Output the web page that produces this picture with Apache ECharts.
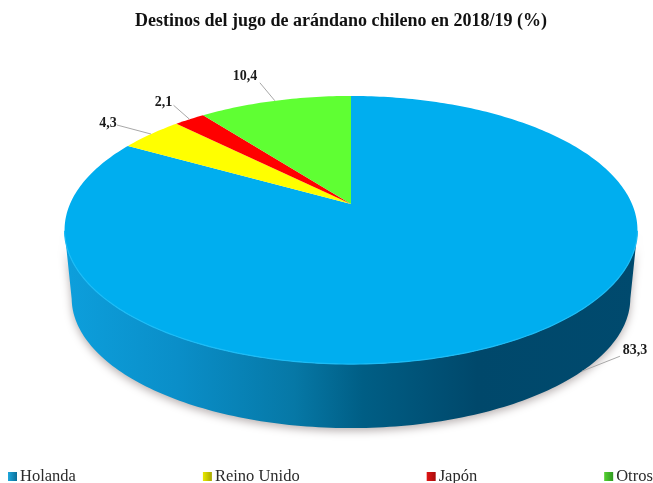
<!DOCTYPE html>
<html>
<head>
<meta charset="utf-8">
<title>Destinos del jugo de arándano chileno</title>
<style>html,body{margin:0;padding:0;background:#fff}#chart{width:653px;height:483px}</style>
<script src="https://cdn.jsdelivr.net/npm/echarts@6/dist/echarts.min.js"></script>
</head>
<body>
<div id="chart"></div>
<script>
// Destination shares, clockwise from twelve o'clock
var categories = ['Holanda', 'Reino Unido', 'Japón', 'Otros'];
var shares = [83.3, 4.3, 2.1, 10.4];
var topColors = ['#00aeef', '#ffff00', '#ff0000', '#5fff33'];
var legendDark = ['#0b6f99', '#a8a800', '#a80d0d', '#2f9a22'];
var legendLight = ['#1fa8dc', '#e8e800', '#e01515', '#55d030'];

// Perspective disc: a unit circle projected with a vanishing term
var disc = {
  cx: 351, apexY: 204, k: 0.194,
  top: { a: 281, b: 129, y: 204 },
  base: { a: 274, b: 125, y: 273 }
};
// Label placement relative to the point a leader touches: [elbow dx, dy, label dx, dy]
var leaders = [
  { face: 'base', angle: 133, elbow: [38, -15], text: [53, -21] },
  { face: 'top', elbow: [-34, -9], text: [-43, -11] },
  { face: 'top', elbow: [-16, -14], text: [-26, -17] },
  { face: 'top', elbow: [-15, -18], text: [-30, -24] }
];

function project(face, deg) {
  var r = deg * Math.PI / 180, X = Math.sin(r), Y = -Math.cos(r), w = 1 - disc.k * Y;
  return [disc.cx + face.a * X / w, face.y + face.b * Y / w];
}
function frontFacing(deg) {
  return -Math.cos(deg * Math.PI / 180) >= disc.k;
}
function arcPoints(face, from, to, step) {
  var pts = [], d;
  for (d = from; d < to; d += step) pts.push(project(face, d));
  pts.push(project(face, to));
  return pts;
}

function sliceRenderer(index) {
  return function (params, api) {
    var value = api.value(0);
    var total = shares.reduce(function (s, v) { return s + v; }, 0);
    var before = shares.slice(0, index).reduce(function (s, v) { return s + v; }, 0);
    var start = before / total * 360, end = start + value / total * 360, mid = (start + end) / 2;
    var children = [];

    // Visible wall below the front part of the rim
    var wallFrom = null, wallTo = null, d;
    for (d = start; d <= end; d += 0.5) {
      if (frontFacing(d)) { if (wallFrom === null) wallFrom = d; wallTo = d; }
    }
    if (wallFrom !== null) {
      var upper = arcPoints(disc.top, wallFrom, wallTo, 1);
      var lower = arcPoints(disc.base, wallFrom, wallTo, 1).reverse();
      children.push({
        type: 'polygon', z2: 1,
        shape: { points: upper.concat(lower) },
        style: {
          fill: new echarts.graphic.LinearGradient(65, 0, 638, 0, [
            { offset: 0, color: '#0d9fdc' },
            { offset: 0.2, color: '#0a8ec8' },
            { offset: 0.4, color: '#0678a6' },
            { offset: 0.52, color: '#005e85' },
            { offset: 0.72, color: '#00486b' },
            { offset: 1, color: '#004a6e' }
          ], true),
          shadowBlur: 9, shadowColor: 'rgba(70,50,50,0.38)', shadowOffsetY: 3
        }
      });
      children.push({
        type: 'polyline', z2: 3,
        shape: { points: upper },
        style: { fill: 'none', stroke: '#1cbcf6', lineWidth: 1.2 }
      });
    }

    // Top face of the slice
    children.push({
      type: 'polygon', z2: 2,
      shape: { points: [[disc.cx, disc.apexY]].concat(arcPoints(disc.top, start, end, 1)) },
      style: { fill: topColors[index] }
    });

    // Leader and value label
    var lead = leaders[index];
    var rim = project(disc[lead.face], lead.angle === undefined ? mid : lead.angle);
    children.push({
      type: 'polyline', z2: 4,
      shape: { points: [rim, [rim[0] + lead.elbow[0], rim[1] + lead.elbow[1]]] },
      style: { fill: 'none', stroke: '#a8a8a8', lineWidth: 1 }
    });
    children.push({
      type: 'text', z2: 5,
      x: rim[0] + lead.text[0], y: rim[1] + lead.text[1],
      style: {
        text: String(value).replace('.', ','),
        font: 'bold 14px "Liberation Serif"',
        fill: '#1a1a1a', align: 'center', verticalAlign: 'middle'
      }
    });
    return { type: 'group', children: children };
  };
}

var series = categories.map(function (name, i) {
  return {
    type: 'custom',
    name: name,
    coordinateSystem: 'none',
    renderItem: sliceRenderer(i),
    itemStyle: { color: topColors[i] },
    data: [[shares[i]]],
    silent: true
  };
});

var chart = echarts.init(document.getElementById('chart'), null, { renderer: 'canvas' });
chart.setOption({
  animation: false,
  backgroundColor: '#ffffff',
  title: {
    text: 'Destinos del jugo de arándano chileno en 2018/19 (%)',
    left: 336, top: 7, textAlign: 'center',
    textStyle: { fontFamily: 'Liberation Serif', fontWeight: 'bold', fontSize: 18, color: '#111111' }
  },
  legend: {
    left: 8, top: 468, width: 645, padding: 0, orient: 'horizontal',
    itemWidth: 9, itemHeight: 9, itemGap: 127, selectedMode: false,
    textStyle: { fontFamily: 'Liberation Serif', fontSize: 16.5, color: '#2b2b2b', padding: [0, 0, 0, -2] },
    data: categories.map(function (name, i) {
      return {
        name: name, icon: 'rect',
        itemStyle: {
          color: new echarts.graphic.LinearGradient(0, 0, 1, 0, [
            { offset: 0, color: legendLight[i] },
            { offset: 1, color: legendDark[i] }
          ])
        }
      };
    })
  },
  series: series
});
</script>
</body>
</html>
